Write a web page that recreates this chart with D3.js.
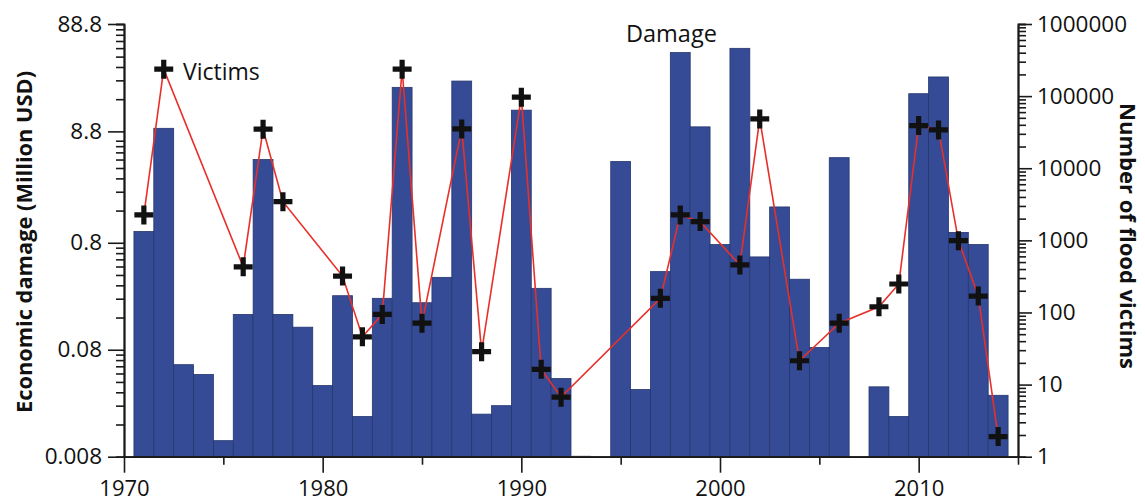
<!DOCTYPE html>
<html>
<head>
<meta charset="utf-8">
<script src="https://cdn.jsdelivr.net/npm/d3@7"></script>
<style>
  html, body { margin: 0; padding: 0; background: #fff; }
  svg { display: block; font-family: "Open Sans", sans-serif; }
</style>
</head>
<body>
<svg id="chart" width="1145" height="504"></svg>
<script>
// ---- data ----
const years = [1971,1972,1973,1974,1975,1976,1977,1978,1979,1980,1981,1982,1983,1984,1985,1986,1987,1988,1989,1990,1991,1992,1993,1994,1995,1996,1997,1998,1999,2000,2001,2002,2003,2004,2005,2006,2007,2008,2009,2010,2011,2012,2013,2014];
const damage = [1.02,9.4,0.058,0.047,0.0113,0.171,4.8,0.171,0.13,0.037,0.256,0.019,0.242,22.7,0.22,0.38,26,0.020,0.024,13.9,0.30,0.043,0.0082,null,4.6,0.034,0.43,48,9.7,0.77,52.6,0.59,1.73,0.365,0.084,5.0,null,0.036,0.019,19.8,28.4,1.0,0.77,0.030];
const victimYears = [1971,1972,1976,1977,1978,1981,1982,1983,1984,1985,1987,1988,1990,1991,1992,1997,1998,1999,2001,2002,2004,2006,2008,2009,2010,2011,2012,2013,2014];
const victims = [2250,236000,430,34800,3440,320,46,94,236000,71,35100,28.6,96600,16.3,6.7,157,2250,1820,456,48300,21.4,71,120,248,39000,34000,990,169,1.9];
const leftTicks = [0.008,0.08,0.8,8.8,88.8];
const leftTickLabels = ["0.008","0.08","0.8","8.8","88.8"];
const rightTicks = [1,10,100,1000,10000,100000,1000000];
const xMajorTicks = [1970,1980,1990,2000,2010];
const xMinorTicks = [1975,1985,1995,2005,2015];

// ---- layout ----
const svg = d3.select("#chart");
const pL = 124, pR = 1018, pT = 24, pB = 456.7;
const x = d3.scaleLinear().domain([1970, 2015]).range([pL, pR]);
const yL = d3.scaleLog().domain([0.008, 88.8]).range([pB, pT]);
const yR = d3.scaleLog().domain([1, 1000000]).range([pB, pT]);

const axisColor = "#1a1a1a";
const barColor = "#364b95";

// bars
const barData = years.map((yr, i) => ({yr, v: damage[i]})).filter(d => d.v != null);
svg.append("g").selectAll("rect").data(barData).join("rect")
  .attr("x", d => x(d.yr - 0.5))
  .attr("width", d => x(d.yr + 0.5) - x(d.yr - 0.5))
  .attr("y", d => yL(d.v))
  .attr("height", d => pB - yL(d.v))
  .attr("fill", d => d.yr === 1993 ? "#b8bcc8" : barColor)
  .attr("stroke", d => d.yr === 1993 ? "none" : "#25366f")
  .attr("stroke-width", 0.8);

// victims line
const vData = victimYears.map((yr, i) => ({yr, v: victims[i]}));
svg.append("path").datum(vData)
  .attr("fill", "none")
  .attr("stroke", "#e8302a")
  .attr("stroke-width", 1.6)
  .attr("d", d3.line().x(d => x(d.yr)).y(d => yR(d.v)));

// plus markers
const ms = 9.5, mt = 2.6;
svg.append("g").selectAll("path").data(vData).join("path")
  .attr("transform", d => `translate(${x(d.yr)},${yR(d.v)})`)
  .attr("d", `M${-ms},${-mt}H${-mt}V${-ms}H${mt}V${-mt}H${ms}V${mt}H${mt}V${ms}H${-mt}V${mt}H${-ms}Z`)
  .attr("fill", "#111");

// axes
function styleAxis(g) {
  g.selectAll("path.domain").attr("stroke", axisColor).attr("stroke-width", 1.8);
  g.selectAll(".tick line").attr("stroke", axisColor).attr("stroke-width", 1.6);
  g.selectAll("text").attr("fill", "#111").style("font-family", "'Open Sans', sans-serif").style("font-size", "22.5px");
}

// left minor
const leftMinor = [];
[0.008,0.08,0.8,8.8].forEach(b => { for (let k = 2; k <= 9; k++) { if (b*k < 88.8) leftMinor.push(b*k); } });
svg.append("g").attr("transform", `translate(${pL},0)`)
  .call(d3.axisLeft(yL).tickValues(leftMinor).tickSize(8).tickFormat(""))
  .call(styleAxis);
svg.append("g").attr("transform", `translate(${pL},0)`)
  .call(d3.axisLeft(yL).tickValues(leftTicks).tickSize(16).tickSizeOuter(0).tickPadding(6)
    .tickFormat((d, i) => leftTickLabels[i]))
  .call(styleAxis);

// right minor
const rightMinor = [];
for (let n = 0; n < 6; n++) for (let k = 2; k <= 9; k++) rightMinor.push(k * Math.pow(10, n));
svg.append("g").attr("transform", `translate(${pR},0)`)
  .call(d3.axisRight(yR).tickValues(rightMinor).tickSize(8).tickFormat(""))
  .call(styleAxis);
svg.append("g").attr("transform", `translate(${pR},0)`)
  .call(d3.axisRight(yR).tickValues(rightTicks).tickSize(14).tickSizeOuter(0).tickPadding(5)
    .tickFormat(d => String(d)))
  .call(styleAxis);

// x axis
svg.append("g").attr("transform", `translate(0,${pB})`)
  .call(d3.axisBottom(x).tickValues(xMinorTicks).tickSize(8).tickSizeOuter(0).tickFormat(""))
  .call(styleAxis);
const xg = svg.append("g").attr("transform", `translate(0,${pB})`)
  .call(d3.axisBottom(x).tickValues(xMajorTicks).tickSize(16).tickSizeOuter(0).tickPadding(8)
    .tickFormat(d3.format("d")))
  .call(styleAxis);
xg.selectAll("text").style("font-size", "22px");

// titles
svg.append("text")
  .attr("transform", `translate(32,${(57+427)/2}) rotate(-90)`)
  .attr("text-anchor", "middle")
  .style("font-size", "21.8px").style("font-weight", "bold").attr("fill", "#111")
  .text("Economic damage (Million USD)");
svg.append("text")
  .attr("transform", `translate(1120,${(100+372)/2}) rotate(90)`)
  .attr("text-anchor", "middle")
  .style("font-size", "22px").style("font-weight", "bold").attr("fill", "#111")
  .text("Number of flood victims");

// series labels
svg.append("text").attr("x", 183).attr("y", 80)
  .style("font-size", "23px").attr("fill", "#111").text("Victims");
svg.append("text").attr("x", 626).attr("y", 42)
  .style("font-size", "23.5px").attr("fill", "#111").text("Damage");
</script>
</body>
</html>
